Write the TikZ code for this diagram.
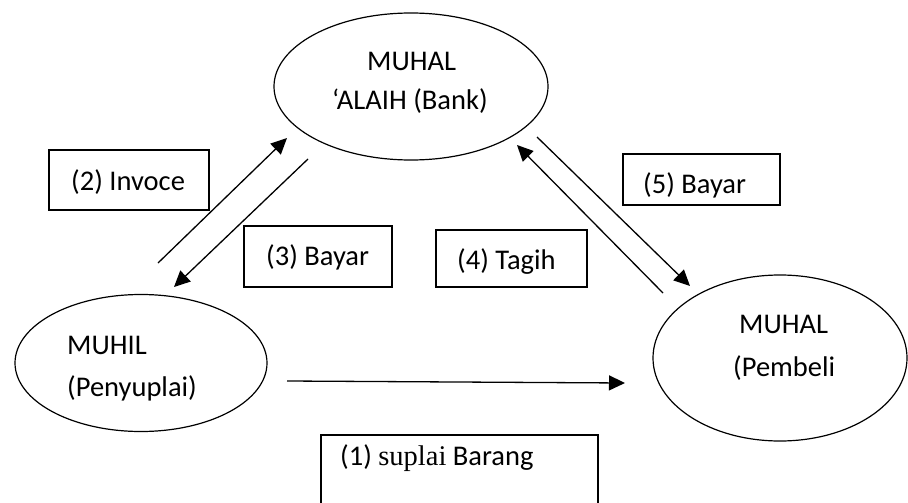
\documentclass[tikz,border=0pt]{standalone}
\usepackage{fontspec}
\setmainfont{Carlito}
\newfontfamily\serifpart{Liberation Serif}
\usetikzlibrary{arrows.meta,shapes.geometric}
\begin{document}
\begin{tikzpicture}[x=1pt,y=-1pt,
  every node/.style={font=\fontsize{28.5}{34}\selectfont, inner sep=0pt},
  party/.style={draw, ellipse, line width=1.2pt},
  labelbox/.style={draw, rectangle, line width=1.2pt},
  txt/.style={anchor=base west},
  flow/.style={line width=1.3pt, -{Triangle[length=16pt,width=15pt]}}]
\useasboundingbox (0,0) rectangle (908,503);
\clip (0,0) rectangle (908,503);
% parties
\node[party, minimum width=274pt, minimum height=147pt] (bank) at (411,86.5) {};
\node[party, minimum width=252pt, minimum height=137pt] (muhil) at (141,363) {};
\node[party, minimum width=254pt, minimum height=166pt] (muhal) at (780,358) {};
\node[txt] (bank1) at (367,70.5) {MUHAL};
\node[txt] (bank2) at (332,110) {‘ALAIH (Bank)};
\node[txt] (muhil1) at (67,354) {MUHIL};
\node[txt] (muhil2) at (67,396) {(Penyuplai)};
\node[txt] (muhal1) at (739,333) {MUHAL};
\node[txt] (muhal2) at (733,376) {(Pembeli};
% label boxes
\node[labelbox, minimum width=160pt, minimum height=60pt] (b2) at (129,180) {};
\node[txt] (t2) at (71,190) {(2) Invoce};
\node[labelbox, minimum width=148pt, minimum height=61pt] (b3) at (318,256.5) {};
\node[txt] (t3) at (266,265.5) {(3) Bayar};
\node[labelbox, minimum width=151pt, minimum height=57pt] (b4) at (511.5,258.5) {};
\node[txt] (t4) at (457,269) {(4) Tagih};
\node[labelbox, minimum width=157pt, minimum height=51pt] (b5) at (701.5,179.5) {};
\node[txt] (t5) at (643,193) {(5) Bayar};
\node[labelbox, minimum width=277pt, minimum height=85pt] (b1) at (459.5,477.5) {};
\node[txt] (t1) at (340,465) {(1) {\serifpart suplai} Barang};
% arrow end points
\coordinate (a2s) at (158,263);
\coordinate (a2e) at (287,138);
\coordinate (a3s) at (308,159);
\coordinate (a3e) at (174,287);
\coordinate (a4s) at (663,293);
\coordinate (a4e) at (517,145);
\coordinate (a5s) at (537,137);
\coordinate (a5e) at (690,286);
\coordinate (a1s) at (287,381);
\coordinate (a1e) at (625,383);
\draw[flow] (a2s) -- (a2e);
\draw[flow] (a3s) -- (a3e);
\draw[flow] (a4s) -- (a4e);
\draw[flow] (a5s) -- (a5e);
\draw[flow] (a1s) -- (a1e);
\end{tikzpicture}
\end{document}
